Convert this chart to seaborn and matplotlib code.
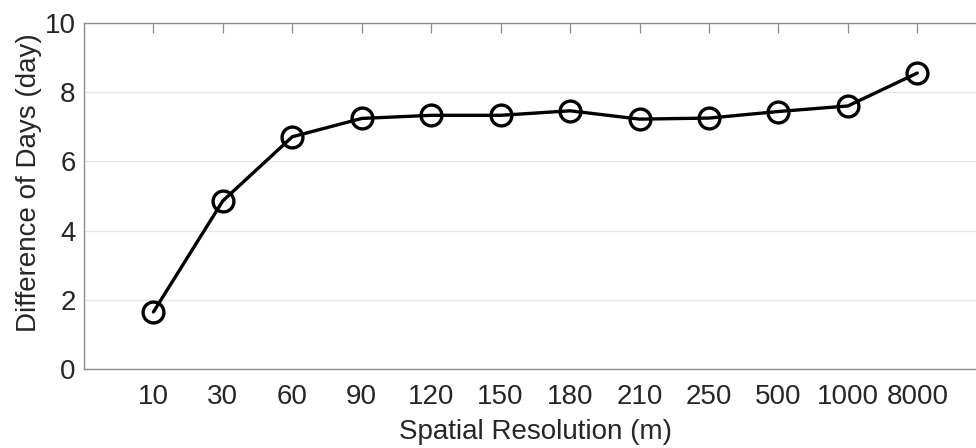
import numpy as np
import pandas as pd
import seaborn as sns
import matplotlib as mpl
from matplotlib import pyplot as plt

sns.set_style("white")
plt.rcParams['font.family'] = ['Liberation Sans', 'DejaVu Sans']

# data
resolution = ["10", "30", "60", "90", "120", "150", "180", "210", "250", "500", "1000", "8000"]
diff_days = [1.65, 4.86, 6.71, 7.24, 7.33, 7.33, 7.46, 7.22, 7.25, 7.44, 7.60, 8.55]

df = pd.DataFrame({"res": resolution, "diff": diff_days})

fig = plt.figure(figsize=(9.76, 4.48), dpi=100)
ax = fig.add_axes([0.086, 0.176, 0.925, 0.773])

sns.lineplot(data=df, x="res", y="diff", ax=ax, color="black", linewidth=2.4,
             marker="o", markersize=15, markerfacecolor="none",
             markeredgecolor="black", markeredgewidth=2.4, sort=False)

ax.set_xlim(-1, 12)
ax.set_ylim(0, 10)
ax.set_yticks(np.arange(0, 11, 2))
ax.yaxis.grid(True, color="#e6e6e6", linewidth=0.9)
ax.xaxis.grid(False)
ax.set_axisbelow(True)

text_c = "#262626"
spine_c = "#8c8c8c"
for s in ax.spines.values():
    s.set_color(spine_c)
    s.set_linewidth(1.0)
ax.tick_params(axis="both", direction="in", length=7, width=0.9, color=spine_c,
               labelsize=20, labelcolor=text_c, top=True, right=True)
ax.tick_params(axis="x", pad=11)
ax.tick_params(axis="y", pad=6)

ax.set_xlabel("Spatial Resolution (m)", fontsize=20, color=text_c)
ax.set_ylabel("Difference of Days (day)", fontsize=20, color=text_c)
ax.xaxis.set_label_coords(0.5, -0.145)
ax.yaxis.set_label_coords(-0.047, 0.54)

fig.savefig("out.png", dpi=100)
